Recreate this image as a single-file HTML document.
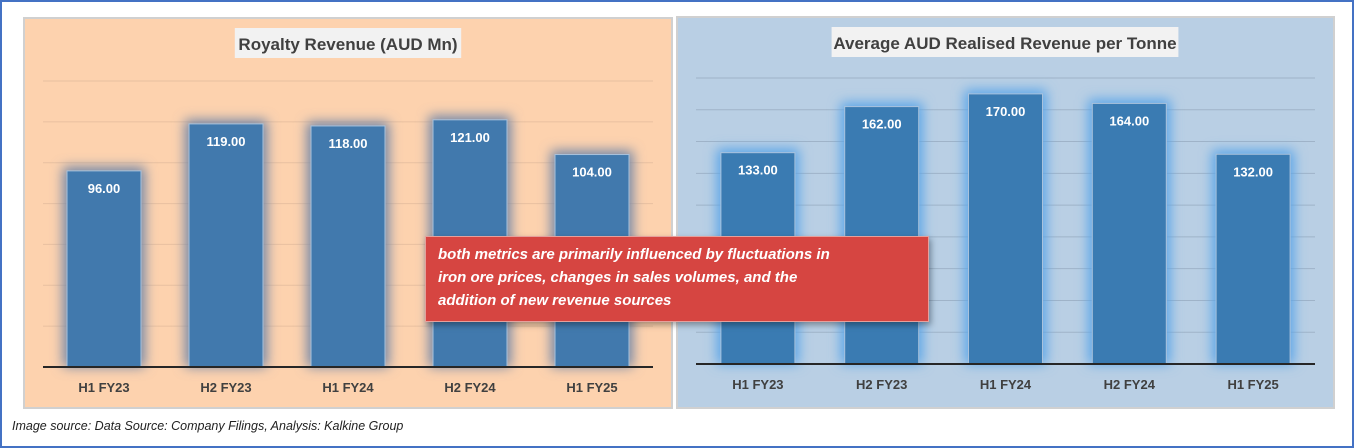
<!DOCTYPE html>
<html><head><meta charset="utf-8"><style>
body{margin:0;width:1354px;height:448px;overflow:hidden;background:#fff;font-family:"Liberation Sans",sans-serif}
#frame{position:absolute;left:0;top:0;width:1350px;height:444px;border:2px solid #4472c4}
svg{position:absolute;left:0;top:0}
#callout{position:absolute;left:425px;top:236px;width:478px;height:70px;padding:6px 12px 8px 12px;background:#d64541;border:1px solid #e5a09c;color:#fff;font:italic bold 15px/23px "Liberation Sans",sans-serif;box-shadow:2px 3px 6px rgba(0,0,0,0.35);white-space:nowrap}
#caption{position:absolute;left:12px;top:419px;font:italic 12.5px "Liberation Sans",sans-serif;color:#222}
</style></head><body>
<div id="frame"></div>
<svg width="1354" height="448" id="chart">
<defs>
<filter id="glowL" x="-50%" y="-30%" width="200%" height="160%"><feGaussianBlur stdDeviation="6"/></filter>
</defs>
</svg>
<div id="callout">both metrics are primarily influenced by fluctuations in<br>iron ore prices, changes in sales volumes, and the<br>addition of new revenue sources</div>
<div id="caption">Image source: Data Source: Company Filings, Analysis: Kalkine Group</div>
<script>
const categories=["H1 FY23","H2 FY23","H1 FY24","H2 FY24","H1 FY25"];
const royaltyValues=[96,119,118,121,104];
const realisedValues=[133,162,170,164,132];
const royaltyTicks=[0,20,40,60,80,100,120,140];
const realisedTicks=[0,20,40,60,80,100,120,140,160,180];
const royaltyTitle="Royalty Revenue (AUD Mn)";
const realisedTitle="Average AUD Realised Revenue per Tonne";
const NS="http://www.w3.org/2000/svg";
const svg=document.getElementById('chart');
function mk(tag,attrs,parent){const e=document.createElementNS(NS,tag);for(const k in attrs)e.setAttribute(k,attrs[k]);(parent||svg).appendChild(e);return e;}
function panel(cfg){
 const g=mk('g',{});
 
 
 const bg=mk('rect',{x:cfg.px,y:cfg.py,width:cfg.pw,height:cfg.ph,fill:cfg.bg,stroke:'#d0d0d0','stroke-width':2},g);
 
 
 const maxV=cfg.ticks[cfg.ticks.length-1];
 const y=v=>cfg.base-(v/maxV)*(cfg.base-cfg.top);
 const band=(cfg.x1-cfg.x0)/cfg.cats.length;
 const xc=i=>cfg.x0+band*(i+0.5);
 cfg.ticks.forEach(t=>{if(t===0)return;
  const l=mk('line',{x1:cfg.x0,x2:cfg.x1,y1:y(t),y2:y(t),stroke:cfg.grid,'stroke-width':1},g);
  
  });
 const tw=cfg.title.length*8.6+20;
 const tb=mk('rect',{x:cfg.tcx-tw/2,y:cfg.ty-17,width:tw,height:30,fill:'#f2f2f2'},g);
 
 
 const tt=mk('text',{x:cfg.tcx,y:cfg.ty+5,'text-anchor':'middle','font-size':17,'font-weight':'bold',fill:'#404040','font-family':'Liberation Sans, sans-serif'},g);
 tt.textContent=cfg.title;
 
 
 cfg.vals.forEach((v,i)=>{
  const bw=74,bx=xc(i)-bw/2,by=y(v);
  const gl=mk('rect',{x:bx-4,y:by-4,width:bw+8,height:cfg.base-by+4,fill:cfg.glow,filter:'url(#glowL)'},g);
  
  
  const b=mk('rect',{x:bx,y:by,width:bw,height:cfg.base-by,fill:cfg.bar,stroke:'#a9c2dc','stroke-width':1},g);
  
  
  const lt=mk('text',{x:xc(i),y:by+22,'text-anchor':'middle','font-size':13,'font-weight':'bold',fill:'#fff','font-family':'Liberation Sans, sans-serif'},g);
  lt.textContent=v.toFixed(2);
  
  
  const ct=mk('text',{x:xc(i),y:cfg.base+25,'text-anchor':'middle','font-size':13,'font-weight':'bold',fill:'#404040','font-family':'Liberation Sans, sans-serif'},g);
  ct.textContent=cfg.cats[i];
  
  
 });
 const ax=mk('line',{x1:cfg.x0,x2:cfg.x1,y1:cfg.base,y2:cfg.base,stroke:'#262626','stroke-width':2},g);
 
 
}
panel({name:'royalty-revenue-chart',px:24,py:18,pw:648,ph:390,bg:'#fdd2ae',grid:'#e8c0a0',x0:43,x1:653,top:81,base:367,ticks:royaltyTicks,vals:royaltyValues,cats:categories,title:royaltyTitle,tcx:348,ty:45,bar:'#4179ad',glow:'#6f85a8'});
panel({name:'realised-revenue-chart',px:677,py:17,pw:657,ph:391,bg:'#b9cfe4',grid:'#9fb3c8',x0:696,x1:1315,top:78,base:364,ticks:realisedTicks,vals:realisedValues,cats:categories,title:realisedTitle,tcx:1005,ty:44,bar:'#3a7bb2',glow:'#5aa5e8'});
</script>
</body></html>
